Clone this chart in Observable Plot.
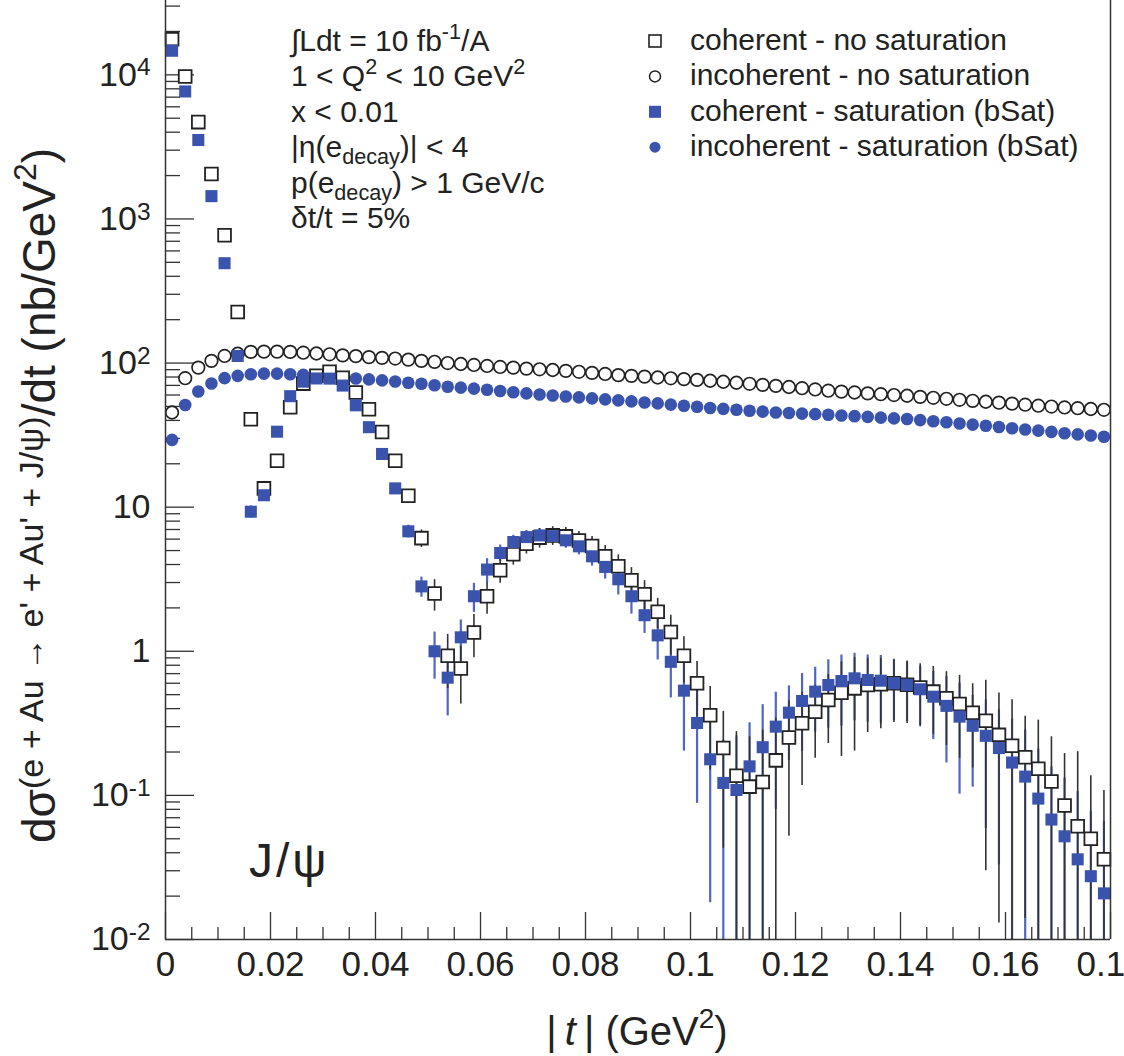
<!DOCTYPE html>
<html>
<head>
<meta charset="utf-8">
<script src="https://cdn.jsdelivr.net/npm/d3@7"></script>
<script src="https://cdn.jsdelivr.net/npm/@observablehq/plot@0.6"></script>
<style>
  body { margin: 0; background: #fff; }
  #chart { position: relative; width: 1124px; height: 1056px; overflow: hidden; }
  #chart svg { display: block; }
</style>
</head>
<body>
<div id="chart"></div>
<script>
// |t| bins: 72 bins of width 0.0025 GeV^2 from 0 to 0.18
const binWidth = 0.0025;
const nBins = 72;
const tCenters = d3.range(nBins).map(i => (i + 0.5) * binWidth);

// coherent - no saturation (nb/GeV^2) and its uncertainty
const cohNoSat = [17700, 9750, 4700, 2050, 770, 226, 40.8, 13.5, 21.0, 49.3,
  72, 81.7, 87, 79, 62.4, 47.8, 33.2, 21.0, 12.0, 6.1,
  2.52, 0.93, 0.76, 1.35, 2.41, 3.65, 4.71, 5.58, 6.15, 6.37,
  6.27, 5.88, 5.37, 4.56, 3.89, 3.11, 2.49, 1.88, 1.36, 0.93,
  0.60, 0.36, 0.213, 0.137, 0.115, 0.124, 0.175, 0.252, 0.317, 0.381,
  0.459, 0.516, 0.553, 0.583, 0.59, 0.60, 0.585, 0.56, 0.525, 0.472,
  0.431, 0.375, 0.330, 0.263, 0.221, 0.184, 0.153, 0.125, 0.085, 0.061,
  0.050, 0.036];
const cohNoSatErr = [250, 200, 110, 50, 20, 6, 1.5, 0.8, 1.0, 1.6,
  2.0, 2.2, 2.3, 2.2, 1.9, 1.6, 1.3, 1.0, 0.9, 0.85,
  0.62, 0.38, 0.33, 0.45, 0.6, 0.68, 0.75, 0.85, 0.95, 0.95,
  0.95, 0.9, 0.88, 0.85, 0.78, 0.7, 0.6, 0.45, 0.42, 0.33,
  0.25, 0.21, 0.17, 0.14, 0.14, 0.16, 0.17, 0.2, 0.2, 0.2,
  0.23, 0.33, 0.35, 0.31, 0.3, 0.28, 0.27, 0.26, 0.26, 0.25,
  0.25, 0.22, 0.3, 0.25, 0.24, 0.17, 0.18, 0.13, 0.11, 0.14,
  0.087, 0.072];

// coherent - saturation (bSat)
const cohSat = [14700, 7670, 3530, 1440, 493, 112, 9.3, 12.1, 33.4, 58.9,
  74.3, 78.2, 78, 69.8, 50.9, 35.9, 23.4, 13.5, 6.8, 2.82,
  1.0, 0.656, 1.25, 2.41, 3.69, 4.81, 5.73, 6.2, 6.37, 6.3,
  5.89, 5.35, 4.56, 3.85, 3.16, 2.41, 1.78, 1.29, 0.845, 0.533,
  0.318, 0.178, 0.122, 0.109, 0.159, 0.216, 0.30, 0.375, 0.452, 0.525,
  0.583, 0.622, 0.649, 0.632, 0.625, 0.60, 0.585, 0.545, 0.484, 0.418,
  0.352, 0.304, 0.259, 0.213, 0.169, 0.135, 0.095, 0.068, 0.052, 0.036,
  0.0275, 0.0209];
const cohSatErr = [200, 150, 80, 40, 15, 4, 0.9, 0.9, 1.5, 1.9,
  2.1, 2.2, 2.2, 2.0, 1.7, 1.4, 1.1, 0.85, 0.7, 0.45,
  0.36, 0.3, 0.4, 0.55, 0.7, 0.65, 0.65, 0.7, 0.72, 0.72,
  0.7, 0.68, 0.66, 0.68, 0.7, 0.6, 0.45, 0.42, 0.37, 0.33,
  0.23, 0.16, 0.12, 0.15, 0.16, 0.21, 0.22, 0.2, 0.25, 0.25,
  0.29, 0.32, 0.32, 0.31, 0.31, 0.27, 0.26, 0.24, 0.24, 0.25,
  0.25, 0.19, 0.2, 0.18, 0.17, 0.15, 0.115, 0.09, 0.08, 0.07,
  0.05, 0.045];

// incoherent - no saturation
const incNoSat = [45.4, 78.5, 93, 103.6, 112, 116, 119.5, 120, 120, 119.5,
  118, 116.5, 115, 113, 111.7, 110, 108.7, 107.5, 105.7, 103.5,
  102, 100, 98.5, 97, 95.5, 94, 93, 91.5, 90.5, 89.5,
  88.3, 87, 85.5, 84, 82.5, 81.5, 80.5, 79.4, 78.4, 77.4,
  76.4, 75.4, 74.2, 73, 71.8, 70.6, 69.5, 68.2, 66.9, 65.6,
  64.3, 63.4, 62.5, 61.6, 60.8, 60.0, 59.3, 58.3, 57.4, 56.5,
  55.6, 54.7, 53.9, 53.1, 52.3, 51.4, 50.6, 49.9, 49.2, 48.6,
  48.0, 47.4];

// incoherent - saturation (bSat)
const incSat = [29.3, 51.2, 63.5, 72.1, 78.6, 81.5, 83.7, 84.5, 84.5, 83.7,
  82.8, 81.5, 80.3, 79.4, 78.2, 77.0, 75.8, 74.5, 73.0, 71.8,
  70.2, 68.5, 67.5, 66.5, 65.3, 64.0, 62.8, 61.6, 60.5, 59.5,
  58.6, 57.8, 56.9, 56.0, 55.1, 54.2, 53.3, 52.5, 51.5, 50.6,
  49.7, 48.8, 48.1, 47.4, 46.7, 46.0, 45.4, 45.0, 44.6, 44.2,
  43.8, 43.3, 42.8, 42.3, 41.8, 41.3, 40.9, 40.2, 39.5, 38.8,
  38.1, 37.4, 36.7, 36.0, 35.3, 34.6, 34.0, 33.3, 32.6, 32.0,
  31.4, 30.8];

// axis ticks
const xMajor = [0, 0.02, 0.04, 0.06, 0.08, 0.1, 0.12, 0.14, 0.16, 0.18];
const xMajorLabels = ["0", "0.02", "0.04", "0.06", "0.08", "0.1", "0.12", "0.14", "0.16", "0.18"];
const yMajor = [0.01, 0.1, 1, 10, 100, 1000, 10000];
const yMajorLabels = ["10^-2", "10^-1", "1", "10", "10^2", "10^3", "10^4"];

const legendItems = [
  {label: "coherent - no saturation", symbol: "square", filled: false},
  {label: "incoherent - no saturation", symbol: "circle", filled: false},
  {label: "coherent - saturation (bSat)", symbol: "square", filled: true},
  {label: "incoherent - saturation (bSat)", symbol: "circle", filled: true}
];

const infoLines = [
  [["∫Ldt = 10 fb", ""], ["-1", "sup"], ["/A", ""]],
  [["1 < Q", ""], ["2", "sup"], [" < 10 GeV", ""], ["2", "sup"]],
  [["x < 0.01", ""]],
  [["|η(e", ""], ["decay", "sub"], [")| < 4", ""]],
  [["p(e", ""], ["decay", "sub"], [") > 1 GeV/c", ""]],
  [["δt/t = 5%", ""]]
];

// ---------------------------------------------------------------
const W = 1124, H = 1056;
const mL = 165, mR = 14, mT = 0, mB = 117;
const innerW = W - mL - mR, innerH = H - mT - mB;
const yMin = 0.01, yMax = 32800;
const font = "'Liberation Sans', Arial, Helvetica, sans-serif";
const BLUE = "#3a53ad";
const BLUE_ERR = "#4f67c2";
const INK = "#222";

const xMinor = d3.range(0, 37).map(i => i * 0.005).filter((d, i) => i % 4 !== 0);
const yMinor = [];
for (let e = -2; e <= 4; e++) for (let m = 2; m <= 9; m++) {
  const v = m * Math.pow(10, e);
  if (v < yMax) yMinor.push(v);
}

const rows = (vals, errs) => tCenters.map((t, i) => ({
  t, v: vals[i], lo: Math.max(yMin * 1.0001, vals[i] - (errs ? errs[i] : 0)), hi: vals[i] + (errs ? errs[i] : 0)
}));
const dCohNoSat = rows(cohNoSat, cohNoSatErr);
const dCohSat = rows(cohSat, cohSatErr);
const dIncNoSat = rows(incNoSat);
const dIncSat = rows(incSat);

const plot = Plot.plot({
  width: W, height: H,
  marginLeft: mL, marginRight: mR, marginTop: mT, marginBottom: mB,
  style: {fontFamily: font, background: "white", color: INK, overflow: "hidden"},
  x: {domain: [0, 0.18]},
  y: {type: "log", domain: [yMin, yMax]},
  marks: [
    // inward tick marks
    Plot.ruleY(yMajor, {insetRight: innerW - 29, stroke: "#333", strokeWidth: 1.3}),
    Plot.ruleY(yMinor, {insetRight: innerW - 15, stroke: "#333", strokeWidth: 1.3}),
    Plot.ruleX(xMajor, {insetTop: innerH - 27, stroke: "#333", strokeWidth: 1.3}),
    Plot.ruleX(xMinor, {insetTop: innerH - 12, stroke: "#333", strokeWidth: 1.3}),
    // tick labels
    Plot.axisX({ticks: xMajor, tickSize: 0, tickPadding: 12, fontSize: 35,
      tickFormat: d => xMajorLabels[xMajor.indexOf(d)], label: null}),
    Plot.axisY({ticks: yMajor, tickSize: 0, tickPadding: 15, fontSize: 34,
      tickFormat: d => yMajorLabels[yMajor.indexOf(d)], label: null}),
    // error bars
    Plot.ruleX(dCohSat, {x: "t", y1: "lo", y2: "hi", stroke: BLUE_ERR, strokeWidth: 2.2}),
    Plot.ruleX(dCohNoSat, {x: "t", y1: "lo", y2: "hi", stroke: "#333", strokeWidth: 1.6}),
    // incoherent
    Plot.dot(dIncNoSat, {x: "t", y: "v", r: 6.3, fill: "none", stroke: INK, strokeWidth: 1.7}),
    Plot.dot(dIncSat, {x: "t", y: "v", r: 6.3, fill: BLUE, stroke: "none"}),
    // coherent
    Plot.dot(dCohNoSat, {x: "t", y: "v", symbol: "square", r: 7.2, fill: "white", stroke: INK, strokeWidth: 1.8}),
    Plot.dot(dCohSat, {x: "t", y: "v", symbol: "square", r: 6.8, fill: BLUE, stroke: "none"}),
    // frame: left, right and bottom edges
    Plot.ruleX([0, 0.18], {stroke: "#333", strokeWidth: 1.5}),
    Plot.ruleY([yMin], {stroke: "#333", strokeWidth: 1.5})
  ]
});
document.getElementById("chart").appendChild(plot);

const svg = d3.select(plot);

// superscript exponents on the y tick labels
svg.selectAll('g[aria-label="y-axis tick label"] text').each(function () {
  const txt = this.textContent;
  if (!txt.includes("^")) return;
  const [base, exp] = txt.split("^");
  const el = d3.select(this);
  el.text(null);
  el.append("tspan").text(base);
  el.append("tspan").attr("dy", "-0.42em").attr("font-size", "0.72em").text(exp);
});

// text helper: runs of [string, "", "sup" or "sub"]
function richText(sel, runs, size) {
  let prev = "";
  for (const [s, kind] of runs) {
    const ts = sel.append("tspan").text(s);
    let dy = 0;
    if (prev === "sup") dy += 0.4 * size; if (prev === "sub") dy -= 0.24 * size;
    if (kind === "sup") dy -= 0.4 * size; if (kind === "sub") dy += 0.24 * size;
    if (dy) ts.attr("dy", dy);
    if (kind) ts.attr("font-size", size * 0.72);
    prev = kind;
  }
}

// information block
const infoSize = 30;
const info = svg.append("g").attr("font-family", font).attr("font-size", infoSize)
  .attr("fill", INK).attr("text-anchor", "start");
infoLines.forEach((runs, i) => {
  const t = info.append("text").attr("x", 291).attr("y", 51 + i * 35.4);
  richText(t, runs, infoSize);
});

// legend
const leg = svg.append("g").attr("font-family", font).attr("font-size", 30)
  .attr("fill", INK).attr("text-anchor", "start");
legendItems.forEach((d, i) => {
  const cy = 41 + i * 35.4;
  if (d.symbol === "square") {
    leg.append("rect").attr("x", 655 - 6).attr("y", cy - 6).attr("width", 12).attr("height", 12)
      .attr("fill", d.filled ? BLUE : "none").attr("stroke", d.filled ? "none" : INK).attr("stroke-width", 1.6);
  } else {
    leg.append("circle").attr("cx", 655).attr("cy", cy).attr("r", 5.5)
      .attr("fill", d.filled ? BLUE : "none").attr("stroke", d.filled ? "none" : INK).attr("stroke-width", 1.5);
  }
  leg.append("text").attr("x", 690).attr("y", cy + 9).text(d.label);
});

// J/psi tag
svg.append("text").attr("x", 249).attr("y", 877).attr("text-anchor", "start")
  .attr("font-family", font).attr("font-size", 48).attr("letter-spacing", 3)
  .attr("fill", INK).text("J/ψ");

// x axis title
const xt = svg.append("text").attr("x", 637).attr("y", 1045).attr("text-anchor", "middle")
  .attr("font-family", font).attr("font-size", 40).attr("fill", INK);
xt.append("tspan").text("|");
xt.append("tspan").attr("font-style", "italic").text("\u2009t\u2009");
xt.append("tspan").text("| (GeV");
xt.append("tspan").attr("dy", -17).attr("font-size", 28).text("2");
xt.append("tspan").attr("dy", 17).text(")");

// y axis title
const yt = svg.append("text").attr("transform", "translate(55,843) rotate(-90)")
  .attr("text-anchor", "start")
  .attr("font-family", font).attr("font-size", 46).attr("fill", INK);
yt.append("tspan").text("dσ");
yt.append("tspan").attr("dy", -12).attr("font-size", 34).text("(e + Au → e' + Au' + J/ψ)");
yt.append("tspan").attr("dy", 12).text("/dt (nb/GeV");
yt.append("tspan").attr("dy", -19).attr("font-size", 32).text("2");
yt.append("tspan").attr("dy", 19).text(")");
</script>
</body>
</html>
